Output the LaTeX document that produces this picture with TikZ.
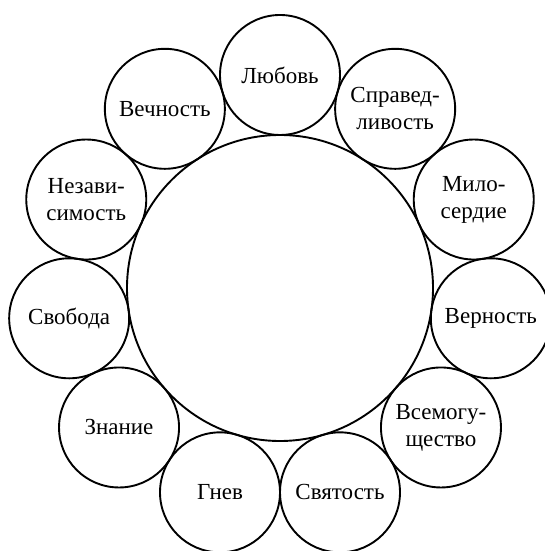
\documentclass[tikz,border=0pt]{standalone}
\usepackage{fontspec}
\setmainfont{Liberation Serif}
\usetikzlibrary{calc}
\begin{document}
\begin{tikzpicture}[x=0.5pt,y=0.5pt,line width=0.95pt,
  hubcircle/.style={circle,draw,inner sep=0pt,minimum size=153pt},
  petal/.style={circle,draw,inner sep=0pt,minimum size=60pt,align=center,
    font=\fontsize{11.5}{13.5}\selectfont}]
\clip (0,0) rectangle (545,551);
\node[hubcircle] (hub) at (280,263) {};
\foreach \k/\txt in {0/Любовь,1/{Справед-\\ливость},2/{Мило-\\сердие},3/Верность,
  4/{Всемогу-\\щество},5/Святость,6/Гнев,7/Знание,8/Свобода,
  9/{Незави-\\симость},10/Вечность}{
  \pgfmathsetmacro{\ang}{90-\k*360/11}
  \node[petal] (c\k) at ($(280,263)+(\ang:106.5pt)$) {\txt};
}
\end{tikzpicture}
\end{document}
